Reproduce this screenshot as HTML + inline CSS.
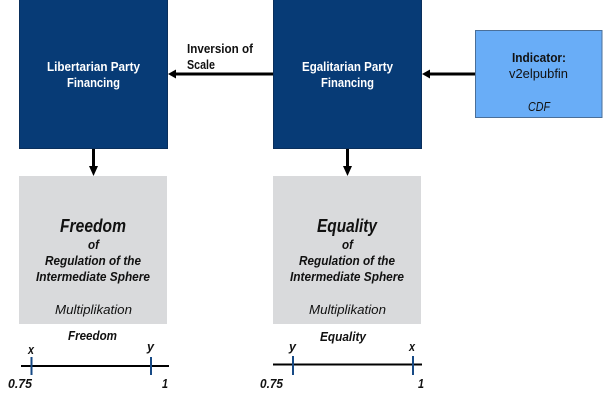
<!DOCTYPE html>
<html><head><meta charset="utf-8"><style>
html,body{margin:0;padding:0;background:#fff;width:608px;height:400px;overflow:hidden}
svg{display:block}
text{font-family:"Liberation Sans",sans-serif;font-size:13px;fill:#111}
.w{fill:#fff;font-weight:bold}
.b{font-weight:bold}
.i{font-style:italic}
.bi{font-weight:bold;font-style:italic}
</style></head><body>
<svg width="608" height="400" viewBox="0 0 608 400" xmlns="http://www.w3.org/2000/svg">
<rect x="19.5" y="-1" width="148" height="149.5" fill="#073b76" stroke="#0a2f5c"/>
<rect x="273.5" y="-1" width="148" height="149.5" fill="#073b76" stroke="#0a2f5c"/>
<rect x="475.5" y="30.5" width="126.5" height="87" fill="#69adf7" stroke="#4a6f99"/>
<rect x="19" y="176" width="148" height="148" fill="#d9dadc"/>
<rect x="273" y="176" width="148" height="148" fill="#d9dadc"/>

<g stroke="#000" stroke-width="3" fill="none">
<line x1="273" y1="74" x2="174" y2="74"/>
<line x1="475" y1="74" x2="428" y2="74"/>
<line x1="93.5" y1="149" x2="93.5" y2="168"/>
<line x1="347.5" y1="149" x2="347.5" y2="168"/>
</g>
<g fill="#000">
<polygon points="168,74 176,69.5 176,78.5"/>
<polygon points="422,74 430,69.5 430,78.5"/>
<polygon points="93.5,176 89,166 98,166"/>
<polygon points="347.5,176 343,166 352,166"/>
</g>

<text class="w" x="47" y="71" textLength="93" lengthAdjust="spacingAndGlyphs">Libertarian Party</text>
<text class="w" x="67" y="87" textLength="53" lengthAdjust="spacingAndGlyphs">Financing</text>
<text class="w" x="302" y="71" textLength="91" lengthAdjust="spacingAndGlyphs">Egalitarian Party</text>
<text class="w" x="321" y="87" textLength="53" lengthAdjust="spacingAndGlyphs">Financing</text>
<text class="b" x="187" y="53" textLength="66" lengthAdjust="spacingAndGlyphs">Inversion of</text>
<text class="b" x="187" y="69" textLength="28" lengthAdjust="spacingAndGlyphs">Scale</text>
<text class="b" x="512" y="62" textLength="54" lengthAdjust="spacingAndGlyphs">Indicator:</text>
<text x="509" y="78" textLength="59" lengthAdjust="spacingAndGlyphs">v2elpubfin</text>
<text class="i" x="528" y="111" textLength="22" lengthAdjust="spacingAndGlyphs">CDF</text>

<text class="bi" x="60" y="232" style="font-size:18px" textLength="66" lengthAdjust="spacingAndGlyphs">Freedom</text>
<text class="bi" x="88" y="249" textLength="11" lengthAdjust="spacingAndGlyphs">of</text>
<text class="bi" x="45" y="265" textLength="96" lengthAdjust="spacingAndGlyphs">Regulation of the</text>
<text class="bi" x="36" y="281" textLength="114" lengthAdjust="spacingAndGlyphs">Intermediate Sphere</text>
<text class="i" x="55" y="314" textLength="77" lengthAdjust="spacingAndGlyphs">Multiplikation</text>

<text class="bi" x="317" y="232" style="font-size:18px" textLength="60" lengthAdjust="spacingAndGlyphs">Equality</text>
<text class="bi" x="342" y="249" textLength="11" lengthAdjust="spacingAndGlyphs">of</text>
<text class="bi" x="299" y="265" textLength="96" lengthAdjust="spacingAndGlyphs">Regulation of the</text>
<text class="bi" x="290" y="281" textLength="114" lengthAdjust="spacingAndGlyphs">Intermediate Sphere</text>
<text class="i" x="309" y="314" textLength="77" lengthAdjust="spacingAndGlyphs">Multiplikation</text>

<line x1="21" y1="366" x2="169" y2="366" stroke="#000" stroke-width="2"/>
<line x1="31.5" y1="357" x2="31.5" y2="375" stroke="#174a85" stroke-width="2"/>
<line x1="151" y1="357" x2="151" y2="375" stroke="#174a85" stroke-width="2"/>
<text class="bi" x="68" y="340" textLength="49" lengthAdjust="spacingAndGlyphs">Freedom</text>
<text class="bi" x="28" y="354" textLength="6" lengthAdjust="spacingAndGlyphs">x</text>
<text class="bi" x="147" y="351" textLength="7" lengthAdjust="spacingAndGlyphs">y</text>
<text class="bi" x="8" y="388" textLength="24" lengthAdjust="spacingAndGlyphs">0.75</text>
<text class="bi" x="162" y="388" textLength="6" lengthAdjust="spacingAndGlyphs">1</text>

<line x1="273" y1="364.5" x2="422" y2="364.5" stroke="#000" stroke-width="2"/>
<line x1="293" y1="356" x2="293" y2="375" stroke="#174a85" stroke-width="2"/>
<line x1="413" y1="356" x2="413" y2="375" stroke="#174a85" stroke-width="2"/>
<text class="bi" x="320" y="341" textLength="46" lengthAdjust="spacingAndGlyphs">Equality</text>
<text class="bi" x="289" y="351" textLength="7" lengthAdjust="spacingAndGlyphs">y</text>
<text class="bi" x="409" y="351" textLength="6" lengthAdjust="spacingAndGlyphs">x</text>
<text class="bi" x="260" y="388" textLength="23" lengthAdjust="spacingAndGlyphs">0.75</text>
<text class="bi" x="418" y="388" textLength="6" lengthAdjust="spacingAndGlyphs">1</text>
</svg>
</body></html>
